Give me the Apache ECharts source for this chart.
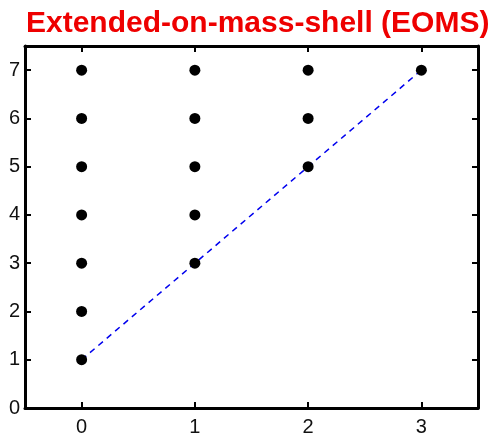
<!DOCTYPE html>
<html>
<head>
<meta charset="utf-8">
<script src="https://cdn.jsdelivr.net/npm/echarts@6/dist/echarts.min.js"></script>
<style>html,body{margin:0;padding:0;background:#fff;}#c{width:495px;height:437px;}</style>
</head>
<body>
<div id="c"></div>
<script>
const titleText = 'Extended-on-mass-shell (EOMS)';
const xTicks = [0, 1, 2, 3];
const yTicks = [0, 1, 2, 3, 4, 5, 6, 7];
const dotsX = [0, 0, 0, 0, 0, 0, 0, 1, 1, 1, 1, 1, 2, 2, 2, 3];
const dotsY = [1, 2, 3, 4, 5, 6, 7, 3, 4, 5, 6, 7, 5, 6, 7, 7];
const lineX = [0, 3];
const lineY = [1, 7];

const chart = echarts.init(document.getElementById('c'), null, {renderer: 'canvas'});
const axisLine = {show: true, onZero: false, lineStyle: {color: '#000', width: 3}};
const tick = {show: true, inside: true, length: 6, lineStyle: {color: '#000', width: 2}};
const lbl = {color: '#111', fontSize: 20, fontFamily: 'Liberation Sans, Arial, sans-serif'};
function fmt(arr){ return function(v){ return arr.indexOf(v) >= 0 ? String(v) : ''; }; }
chart.setOption({
  animation: false,
  backgroundColor: '#fff',
  title: {
    text: titleText, left: 21, top: 4,
    textStyle: {color: '#ee0000', fontSize: 30, fontWeight: 'bold', fontFamily: 'Liberation Sans, Arial, sans-serif'}
  },
  grid: {left: 25, right: 17, top: 46, bottom: 26, containLabel: false},
  xAxis: [
    {type: 'value', min: -0.5, max: 3.5, splitNumber: 4, position: 'bottom', axisLine: axisLine, axisTick: tick,
     splitLine: {show: false}, axisLabel: Object.assign({formatter: fmt(xTicks), margin: 9, showMinLabel: false, showMaxLabel: false}, lbl)},
    {type: 'value', min: -0.5, max: 3.5, splitNumber: 4, position: 'top', axisLine: axisLine, axisTick: tick,
     splitLine: {show: false}, axisLabel: {show: false}}
  ],
  yAxis: [
    {type: 'value', min: 0, max: 7.5, interval: 1, position: 'left', axisLine: axisLine, axisTick: tick,
     splitLine: {show: false}, axisLabel: Object.assign({formatter: fmt(yTicks), margin: 5, showMaxLabel: false}, lbl)},
    {type: 'value', min: 0, max: 7.5, interval: 1, position: 'right', axisLine: axisLine, axisTick: tick,
     splitLine: {show: false}, axisLabel: {show: false}}
  ],
  series: [
    {type: 'line', xAxisIndex: 0, yAxisIndex: 0, data: lineX.map((x, i) => [x, lineY[i]]), symbol: 'none',
     lineStyle: {color: '#0000ee', width: 1.5, type: [6, 5]}, z: 2},
    {type: 'scatter', xAxisIndex: 0, yAxisIndex: 0, data: dotsX.map((x, i) => [x, dotsY[i]]),
     symbol: 'circle', symbolSize: 11, itemStyle: {color: '#000', opacity: 1}, z: 3}
  ]
});
</script>
</body>
</html>
